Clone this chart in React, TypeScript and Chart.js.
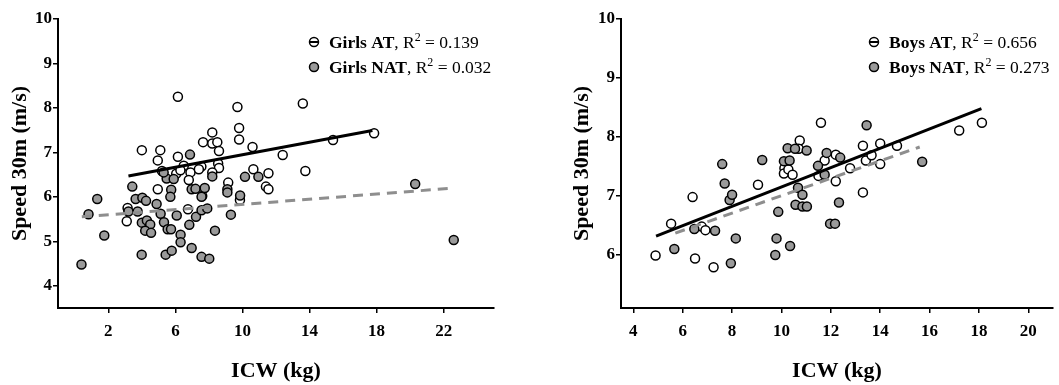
import React, { useEffect, useRef } from "react";
import { Chart, registerables } from "chart.js";

Chart.register(...registerables);

// ---------- DATA ----------
const seriesNamesGirls = ["Girls AT", "Girls NAT"];
const r2Girls = ["0.139", "0.032"];
const seriesNamesBoys = ["Boys AT", "Boys NAT"];
const r2Boys = ["0.656", "0.273"];

const xTicksGirls = [2, 6, 10, 14, 18, 22];
const yTicksGirls = [4, 5, 6, 7, 8, 9, 10];
const xTicksBoys = [4, 6, 8, 10, 12, 14, 16, 18, 20];
const yTicksBoys = [6, 7, 8, 9, 10];

const xAxisTitle = "ICW (kg)";
const yAxisTitle = "Speed 30m (m/s)";

// Girls AT (ICW kg, speed m/s)
const girlsAT: [number, number][] = [
  [6.15, 8.25], [9.7, 8.02], [13.6, 8.1], [17.85, 7.43], [15.4, 7.28],
  [9.8, 7.55], [9.8, 7.29], [8.2, 7.45], [7.65, 7.23], [8.2, 7.2],
  [8.5, 7.23], [4.0, 7.05], [5.1, 7.05], [10.6, 7.12], [8.6, 7.03],
  [12.4, 6.94], [4.95, 6.82], [6.15, 6.9], [7.55, 6.68], [8.55, 6.75],
  [8.6, 6.65], [6.5, 6.7], [6.9, 6.55], [10.65, 6.62], [11.55, 6.53],
  [13.75, 6.58], [8.2, 6.55], [6.05, 6.52], [6.3, 6.6], [5.2, 6.58],
  [6.8, 6.38], [7.4, 6.62], [9.15, 6.32], [11.4, 6.23], [11.55, 6.17],
  [4.95, 6.17], [3.1, 5.45], [3.15, 5.75], [6.75, 5.72], [9.85, 5.93],
  [7.6, 6.02],
];

// Girls NAT
const girlsNAT: [number, number][] = [
  [0.4, 4.48], [0.82, 5.61], [1.34, 5.95], [1.76, 5.13], [3.43, 6.23],
  [3.99, 4.7], [3.2, 5.67], [3.63, 5.95], [4.03, 5.98], [3.75, 5.67],
  [4.25, 5.91], [4.0, 5.42], [4.3, 5.47], [4.5, 5.38], [4.2, 5.24],
  [4.55, 5.19], [4.88, 5.84], [5.12, 5.62], [5.32, 5.43], [5.48, 6.41],
  [5.3, 6.55], [5.75, 6.16], [5.7, 6.0], [5.54, 5.27], [5.74, 5.27],
  [5.42, 4.7], [5.78, 4.79], [6.08, 5.58], [6.31, 5.15], [6.31, 4.98],
  [6.83, 5.37], [6.97, 4.85], [7.23, 5.55], [6.87, 6.95], [6.97, 6.17],
  [7.2, 6.18], [7.56, 6.0], [7.75, 6.2], [7.56, 4.65], [8.02, 4.61],
  [7.56, 5.7], [7.9, 5.74], [8.36, 5.24], [8.2, 6.46], [9.1, 6.17],
  [9.1, 6.1], [9.31, 5.6], [9.86, 6.03], [10.15, 6.45], [10.95, 6.45],
  [5.9, 6.4], [20.3, 6.29], [22.6, 5.03],
];

// Boys AT
const boysAT: [number, number][] = [
  [4.9, 5.99], [5.53, 6.53], [6.4, 6.98], [6.5, 5.94], [6.77, 6.48],
  [6.92, 6.42], [7.25, 5.79], [9.05, 7.19], [10.12, 7.47], [10.1, 7.38],
  [10.28, 7.45], [10.45, 7.36], [10.74, 7.94], [10.7, 7.8], [11.6, 8.24],
  [11.75, 7.6], [11.5, 7.34], [12.2, 7.7], [12.2, 7.25], [12.78, 7.47],
  [13.3, 7.85], [13.42, 7.6], [13.3, 7.06], [14.0, 7.89], [14.0, 7.54],
  [13.65, 7.69], [14.68, 7.85], [17.2, 8.11], [18.12, 8.24],
];

// Boys NAT
const boysNAT: [number, number][] = [
  [5.66, 6.1], [6.47, 6.44], [7.31, 6.41], [7.6, 7.54], [7.7, 7.21],
  [7.9, 6.93], [8.0, 7.02], [7.95, 5.86], [8.15, 6.28], [9.22, 7.61],
  [9.87, 6.73], [9.8, 6.28], [9.75, 6.0], [10.1, 7.59], [10.33, 7.6],
  [10.35, 6.15], [10.25, 7.81], [10.55, 7.8], [10.57, 6.85], [10.67, 7.14],
  [10.85, 7.02], [10.85, 6.82], [11.03, 6.82], [11.02, 7.77], [11.48, 7.51],
  [11.75, 7.36], [11.83, 7.73], [11.97, 6.53], [12.17, 6.53], [12.33, 6.89],
  [12.38, 7.65], [13.45, 8.2], [15.7, 7.58],
];

// Regression line end points
const girlsATFit: [number, number][] = [[3.2, 6.47], [17.75, 7.49]];
const girlsNATFit: [number, number][] = [[0.42, 5.55], [22.35, 6.19]];
const boysATFit: [number, number][] = [[4.92, 6.32], [18.1, 8.48]];
const boysNATFit: [number, number][] = [[5.7, 6.37], [15.6, 7.83]];

// ---------- STYLE ----------
const FONT = '"Liberation Serif", "Times New Roman", serif';
const GRAY = "#9a9a9a";
const DASH_GRAY = "#8e8e8e";

const toPts = (a: [number, number][]) => a.map(([x, y]) => ({ x, y }));

const legendPlugin = {
  id: "richLegend",
  afterDraw(chart: any, _args: any, opts: any) {
    if (!opts || !opts.items) return;
    const ctx = chart.ctx as CanvasRenderingContext2D;
    ctx.save();
    opts.items.forEach((it: any, i: number) => {
      const cy = opts.y + i * opts.gap;
      const mx = opts.x;
      ctx.beginPath();
      ctx.arc(mx, cy, 4.5, 0, Math.PI * 2);
      ctx.fillStyle = it.fill;
      ctx.fill();
      ctx.lineWidth = 1.5;
      ctx.strokeStyle = "#000";
      ctx.stroke();
      if (it.bar) {
        ctx.beginPath();
        ctx.moveTo(mx - 4.5, cy);
        ctx.lineTo(mx + 4.5, cy);
        ctx.lineWidth = 2;
        ctx.stroke();
      }
      let tx = opts.x + opts.textOffset;
      const by = cy + 6;
      ctx.fillStyle = "#000";
      ctx.textBaseline = "alphabetic";
      ctx.textAlign = "left";
      ctx.font = `bold 17.5px ${FONT}`;
      ctx.fillText(it.name, tx, by);
      tx += ctx.measureText(it.name).width;
      ctx.font = `17.5px ${FONT}`;
      ctx.fillText(", R", tx, by);
      tx += ctx.measureText(", R").width;
      ctx.font = `12px ${FONT}`;
      ctx.fillText("2", tx, by - 7);
      tx += ctx.measureText("2").width;
      ctx.font = `17.5px ${FONT}`;
      ctx.fillText(" = " + it.r2, tx, by);
    });
    ctx.restore();
  },
};

type Cfg = {
  at: [number, number][];
  nat: [number, number][];
  atFit: [number, number][];
  natFit: [number, number][];
  xMin: number;
  xMax: number;
  yMin: number;
  yMax: number;
  xTicks: number[];
  yTicks: number[];
  yAxisWidth: number;
  yTitlePad: number;
  padRight: number;
  names: string[];
  r2: string[];
  legendX: number;
};

function makeChart(canvas: HTMLCanvasElement, c: Cfg) {
  const tickFont = { family: FONT, size: 17, weight: "bold" as const };
  const titleFont = { family: FONT, size: 22, weight: "bold" as const };
  return new Chart(canvas, {
    type: "scatter",
    data: {
      datasets: [
        {
          label: c.names[0] + " fit",
          data: toPts(c.atFit),
          showLine: true,
          borderColor: "#000",
          borderWidth: 3,
          pointRadius: 0,
          order: 0,
        } as any,
        {
          label: c.names[1] + " fit",
          data: toPts(c.natFit),
          showLine: true,
          borderColor: DASH_GRAY,
          borderWidth: 3,
          borderDash: [10, 7],
          pointRadius: 0,
          order: 1,
        } as any,
        {
          label: c.names[1],
          data: toPts(c.nat),
          backgroundColor: GRAY,
          borderColor: "#000",
          borderWidth: 1.5,
          pointRadius: 4.5,
          order: 2,
        },
        {
          label: c.names[0],
          data: toPts(c.at),
          backgroundColor: "#fff",
          borderColor: "#000",
          borderWidth: 1.5,
          pointRadius: 4.5,
          order: 3,
        },
      ],
    },
    options: {
      animation: false,
      responsive: false,
      devicePixelRatio: 1,
      events: [],
      layout: { padding: { left: 0, right: c.padRight, top: 19, bottom: 0 } },
      plugins: {
        legend: { display: false },
        tooltip: { enabled: false },
        richLegend: {
          x: c.legendX,
          y: 42,
          gap: 25,
          textOffset: 15,
          items: [
            { name: c.names[0], r2: c.r2[0], fill: "#fff", bar: true },
            { name: c.names[1], r2: c.r2[1], fill: GRAY, bar: false },
          ],
        },
      } as any,
      scales: {
        x: {
          type: "linear",
          min: c.xMin,
          max: c.xMax,
          afterBuildTicks: (s: any) => {
            s.ticks = c.xTicks.map((v) => ({ value: v }));
          },
          afterFit: (s: any) => {
            s.height = 77;
          },
          border: { display: true, color: "#000", width: 2 },
          grid: {
            display: true,
            drawOnChartArea: false,
            drawTicks: true,
            tickLength: 5,
            color: "#000",
            lineWidth: 1.5,
          },
          ticks: {
            color: "#000",
            font: tickFont,
            padding: 8,
            autoSkip: false,
            maxRotation: 0,
          },
          title: {
            display: true,
            text: xAxisTitle,
            color: "#000",
            font: titleFont,
            padding: { top: 0, bottom: 0 },
          },
        },
        y: {
          type: "linear",
          min: c.yMin,
          max: c.yMax,
          afterBuildTicks: (s: any) => {
            s.ticks = c.yTicks.map((v) => ({ value: v }));
          },
          afterFit: (s: any) => {
            s.width = c.yAxisWidth;
          },
          border: { display: true, color: "#000", width: 2 },
          grid: {
            display: true,
            drawOnChartArea: false,
            drawTicks: true,
            tickLength: 5,
            color: "#000",
            lineWidth: 1.5,
          },
          ticks: {
            color: "#000",
            font: tickFont,
            padding: 1,
            autoSkip: false,
          },
          title: {
            display: true,
            text: yAxisTitle,
            color: "#000",
            font: titleFont,
            padding: { top: c.yTitlePad, bottom: 0 },
          },
        },
      },
    },
    plugins: [legendPlugin],
  });
}

export default function App() {
  const leftRef = useRef<HTMLCanvasElement>(null);
  const rightRef = useRef<HTMLCanvasElement>(null);

  useEffect(() => {
    const left = makeChart(leftRef.current!, {
      at: girlsAT,
      nat: girlsNAT,
      atFit: girlsATFit,
      natFit: girlsNATFit,
      xMin: -1,
      xMax: 25,
      yMin: 3.5,
      yMax: 10,
      xTicks: xTicksGirls,
      yTicks: yTicksGirls,
      yAxisWidth: 58,
      yTitlePad: 7,
      padRight: 35,
      names: seriesNamesGirls,
      r2: r2Girls,
      legendX: 314,
    });
    const right = makeChart(rightRef.current!, {
      at: boysAT,
      nat: boysNAT,
      atFit: boysATFit,
      natFit: boysNATFit,
      xMin: 3.5,
      xMax: 21,
      yMin: 5.1,
      yMax: 10,
      xTicks: xTicksBoys,
      yTicks: yTicksBoys,
      yAxisWidth: 91,
      yTitlePad: 39,
      padRight: 2,
      names: seriesNamesBoys,
      r2: r2Boys,
      legendX: 344,
    });
    return () => {
      left.destroy();
      right.destroy();
    };
  }, []);

  return (
    <div
      style={{
        position: "fixed",
        left: 0,
        top: 0,
        width: 1059,
        height: 385,
        background: "#fff",
      }}
    >
      <canvas
        ref={leftRef}
        width={529}
        height={385}
        style={{ position: "absolute", left: 0, top: 0, width: 529, height: 385 }}
      />
      <canvas
        ref={rightRef}
        width={529}
        height={385}
        style={{ position: "absolute", left: 530, top: 0, width: 529, height: 385 }}
      />
    </div>
  );
}
